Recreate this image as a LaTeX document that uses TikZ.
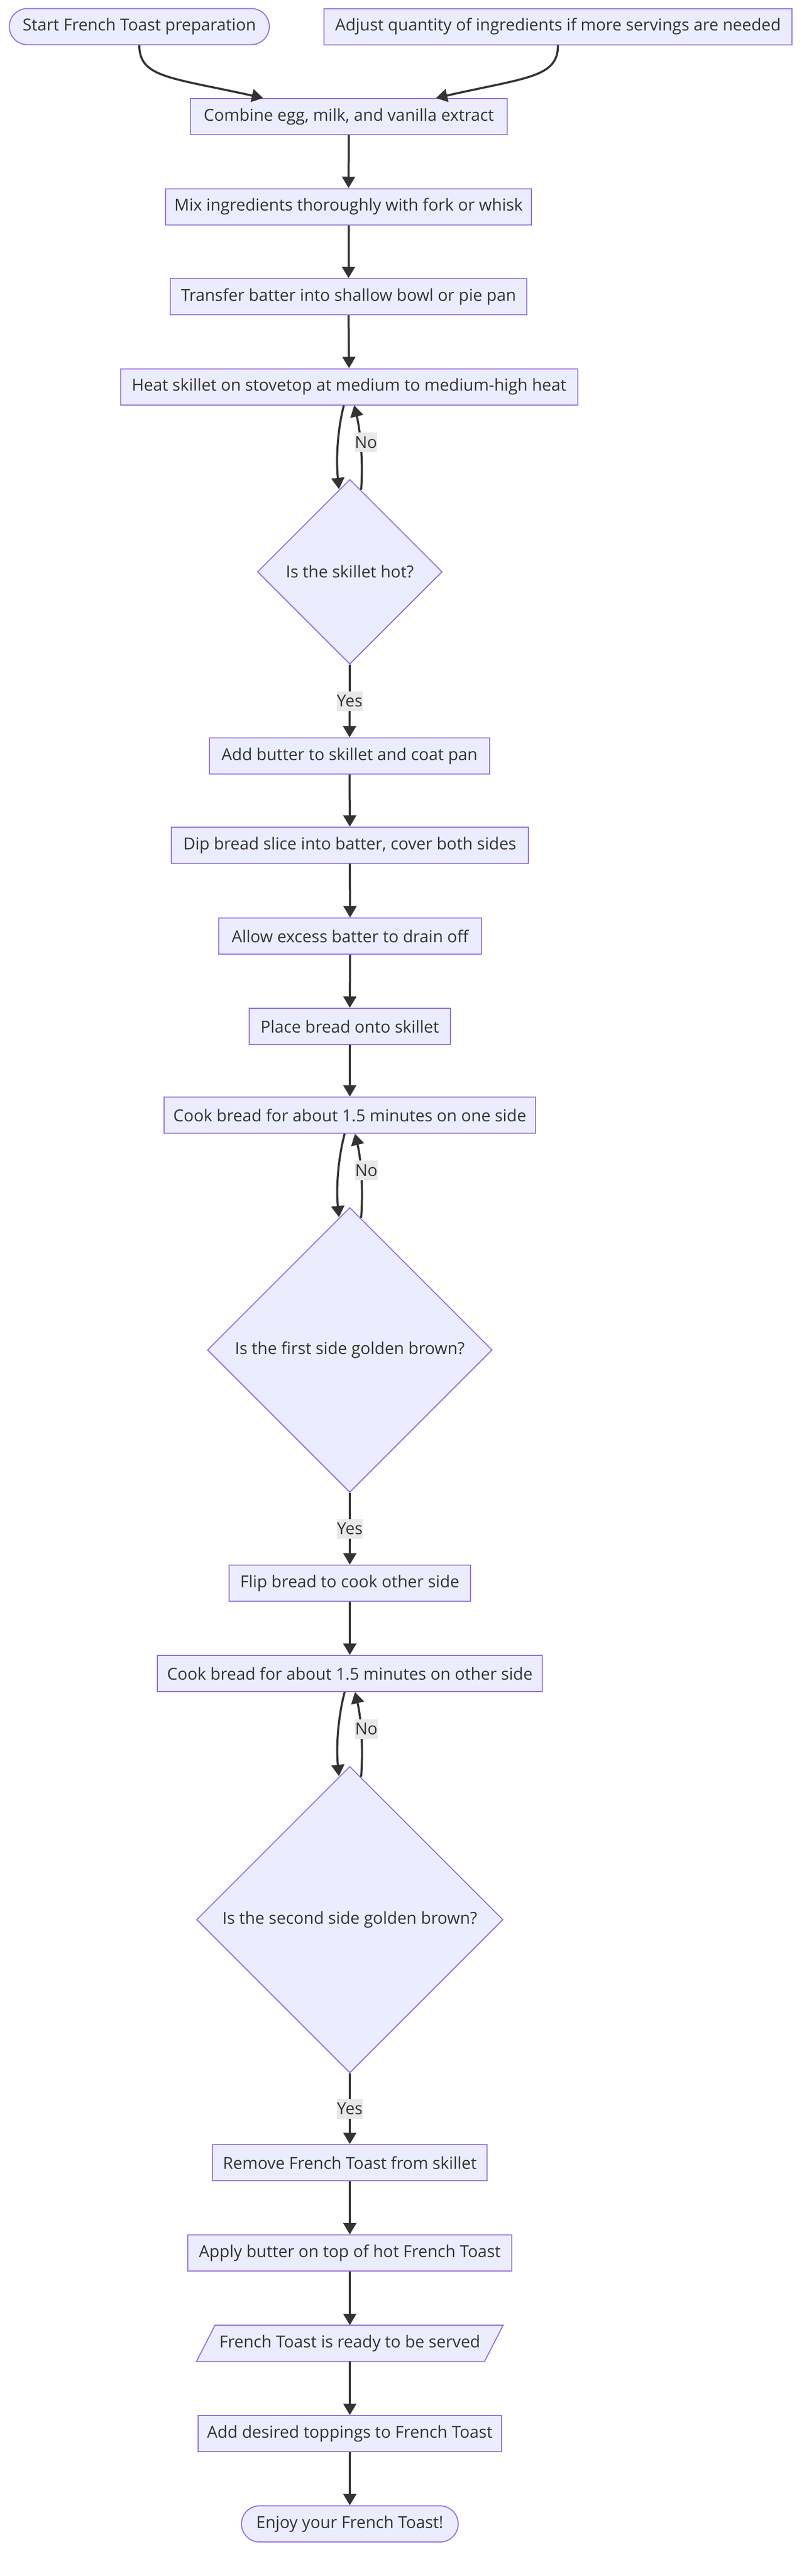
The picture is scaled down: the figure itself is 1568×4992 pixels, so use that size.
\documentclass[tikz,border=0pt]{standalone}
\usepackage{fontspec}
\setmainfont{Open Sans}
\usetikzlibrary{arrows.meta,shapes.geometric,calc,backgrounds}
\definecolor{nodefill}{HTML}{ECECFF}
\definecolor{nodeline}{HTML}{9370DB}
\definecolor{ink}{HTML}{333333}
\definecolor{lblbg}{HTML}{E8E8E8}
\begin{document}
\begin{tikzpicture}[x=1pt,y=-1pt,
  every node/.style={font=\fontsize{32}{38}\selectfont, text=ink},
  procbox/.style={draw=nodeline, fill=nodefill, line width=2pt, rectangle, minimum height=70pt, inner sep=0pt},
  termbox/.style={procbox, rounded corners=35pt},
  plainbox/.style={rectangle, minimum height=70pt, inner sep=0pt},
  decbox/.style={draw=nodeline, fill=nodefill, line width=2pt, diamond, aspect=1, inner sep=0pt},
  arr/.style={draw=ink, line width=4pt, -{Triangle[length=22pt,width=25pt]}},
  lbl/.style={fill=lblbg, inner xsep=0pt, inner ysep=0pt, minimum height=38pt}
]
\begin{scope}[on background layer]
  \fill[white] (0,0) rectangle (1568,4992);
\end{scope}
\useasboundingbox (0,0) rectangle (1568,4992);

\node[termbox, minimum width=504pt] (start) at (270,51.5) {Start French Toast preparation};
\node[procbox, minimum width=907pt] (adjust) at (1081.5,51.5) {Adjust quantity of ingredients if more servings are needed};
\node[procbox, minimum width=614pt] (combine) at (676,226) {Combine egg, milk, and vanilla extract};
\node[procbox, minimum width=709pt] (mix) at (675.5,400.5) {Mix ingredients thoroughly with fork or whisk};
\node[procbox, minimum width=691pt] (transfer) at (675.5,575) {Transfer batter into shallow bowl or pie pan};
\node[procbox, minimum width=886pt] (heat) at (676.5,749.5) {Heat skillet on stovetop at medium to medium-high heat};
\node[decbox, minimum width=358pt, minimum height=358pt] (d1) at (678,1108) {Is the skillet hot?};
\node[procbox, minimum width=543pt] (addbutter) at (677.5,1465) {Add butter to skillet and coat pan};
\node[procbox, minimum width=692pt] (dip) at (678,1638) {Dip bread slice into batter, cover both sides};
\node[procbox, minimum width=509pt] (allow) at (678.5,1814) {Allow excess batter to drain off};
\node[procbox, minimum width=390pt] (place) at (678,1989) {Place bread onto skillet};
\node[procbox, minimum width=720pt] (cook1) at (678,2161) {Cook bread for about 1.5 minutes on one side};
\node[decbox, minimum width=552pt, minimum height=552pt] (d2) at (678,2616) {Is the first side golden brown?};
\node[procbox, minimum width=468pt] (flip) at (678,3068) {Flip bread to cook other side};
\node[procbox, minimum width=746pt] (cook2) at (678,3243) {Cook bread for about 1.5 minutes on other side};
\node[decbox, minimum width=594pt, minimum height=594pt] (d3) at (678,3720) {Is the second side golden brown?};
\node[procbox, minimum width=532pt] (remove) at (678,4191) {Remove French Toast from skillet};
\node[procbox, minimum width=628pt] (apply) at (678,4366) {Apply butter on top of hot French Toast};
\node[plainbox, minimum width=594pt] (ready) at (678,4541) {French Toast is ready to be served};
\begin{scope}[on background layer]
  \draw[draw=nodeline, fill=nodefill, line width=2pt, line join=miter]
    (ready.south west) -- ($(ready.north west)+(36,0)$) -- (ready.north east)
    -- ($(ready.south east)+(-36,0)$) -- cycle;
\end{scope}
\node[procbox, minimum width=588pt] (toppings) at (678,4716) {Add desired toppings to French Toast};
\node[termbox, minimum width=420pt] (enjoy) at (678,4891) {Enjoy your French Toast!};

% top merging edges
\draw[arr] (start.south) .. controls +(0,63) and (330,150) .. ($(combine.north)+(-166,0)$);
\draw[arr] (adjust.south) .. controls +(0,63) and (1021,150) .. ($(combine.north)+(169,0)$);

% straight edges
\draw[arr] (combine.south) -- (mix.north);
\draw[arr] (mix.south) -- (transfer.north);
\draw[arr] (transfer.south) -- (heat.north);
\draw[arr] (addbutter.south) -- (dip.north);
\draw[arr] (dip.south) -- (allow.north);
\draw[arr] (allow.south) -- (place.north);
\draw[arr] (place.south) -- (cook1.north);
\draw[arr] (flip.south) -- (cook2.north);
\draw[arr] (remove.south) -- (apply.north);
\draw[arr] (apply.south) -- (ready.north);
\draw[arr] (ready.south) -- (toppings.north);
\draw[arr] (toppings.south) -- (enjoy.north);

% decision loops
\foreach \b/\d in {heat/d1, cook1/d2, cook2/d3}{
  \draw[arr] ($(\b.south)+(-10,0)$) .. controls +(-12,45) and +(-6,-60) .. ($(\d.north)+(-21,20)$);
  \draw[arr] ($(\d.north)+(22,21)$) .. controls +(4,-55) and +(12,50) .. ($(\b.south)+(10,0)$);
  \node[lbl] at ($(\b.south)!0.5!(\d.north)+(32,0)$) {No};
}

% yes edges
\draw[arr] (d1.south) -- node[lbl]{Yes} (addbutter.north);
\draw[arr] (d2.south) -- node[lbl]{Yes} (flip.north);
\draw[arr] (d3.south) -- node[lbl]{Yes} (remove.north);
\end{tikzpicture}
\end{document}
